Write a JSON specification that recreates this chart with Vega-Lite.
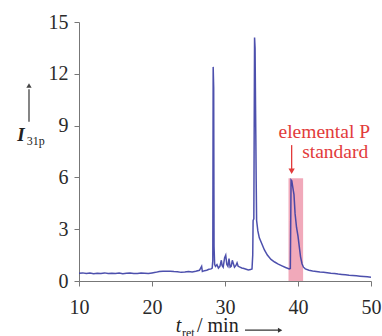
{
  "$schema": "https://vega.github.io/schema/vega-lite/v6.json",
  "width": 292,
  "height": 259,
  "autosize": "none",
  "padding": {"left": 79, "top": 22, "right": 11, "bottom": 55},
  "background": "white",
  "config": {
    "font": "Liberation Serif",
    "view": {"stroke": null},
    "axis": {
      "labelFont": "Liberation Serif",
      "labelFontSize": 20,
      "labelColor": "#2a2a2a",
      "domainColor": "#777777",
      "tickColor": "#777777",
      "tickSize": 5,
      "grid": false,
      "title": null
    }
  },
  "layer": [
    {
      "data": {"values": [{"t0": 38.7, "t1": 40.7, "i0": 0, "i1": 5.95}]},
      "mark": {"type": "rect", "color": "#ef9aae", "opacity": 0.85},
      "encoding": {
        "x": {"field": "t0", "type": "quantitative", "scale": {"domain": [10, 50], "nice": false},
              "axis": {"values": [10, 20, 30, 40, 50], "labelPadding": 11, "labelFlush": false}},
        "x2": {"field": "t1"},
        "y": {"field": "i0", "type": "quantitative", "scale": {"domain": [0, 15], "nice": false},
              "axis": {"values": [0, 3, 6, 9, 12, 15], "labelPadding": 6}},
        "y2": {"field": "i1"}
      }
    },
    {
      "data": {"values": [
        {"t": 10.0, "I": 0.45}, {"t": 10.5, "I": 0.47}, {"t": 11.0, "I": 0.43}, {"t": 11.5, "I": 0.46},
        {"t": 12.0, "I": 0.42}, {"t": 12.5, "I": 0.45}, {"t": 13.0, "I": 0.44}, {"t": 13.5, "I": 0.47},
        {"t": 14.0, "I": 0.43}, {"t": 14.5, "I": 0.45}, {"t": 15.0, "I": 0.44}, {"t": 15.5, "I": 0.46},
        {"t": 16.0, "I": 0.42}, {"t": 16.5, "I": 0.45}, {"t": 17.0, "I": 0.47}, {"t": 17.5, "I": 0.44},
        {"t": 18.0, "I": 0.43}, {"t": 18.5, "I": 0.46}, {"t": 19.0, "I": 0.45}, {"t": 19.5, "I": 0.44},
        {"t": 20.0, "I": 0.47}, {"t": 20.5, "I": 0.5}, {"t": 21.0, "I": 0.55}, {"t": 21.5, "I": 0.57},
        {"t": 22.0, "I": 0.56}, {"t": 22.5, "I": 0.57}, {"t": 23.0, "I": 0.55}, {"t": 23.5, "I": 0.54},
        {"t": 24.0, "I": 0.5}, {"t": 24.5, "I": 0.52}, {"t": 25.0, "I": 0.55}, {"t": 25.5, "I": 0.52},
        {"t": 26.0, "I": 0.56}, {"t": 26.5, "I": 0.62}, {"t": 26.8, "I": 0.85}, {"t": 26.9, "I": 0.55},
        {"t": 27.2, "I": 0.6}, {"t": 27.5, "I": 0.62}, {"t": 27.8, "I": 0.68}, {"t": 28.1, "I": 0.7},
        {"t": 28.25, "I": 0.75}, {"t": 28.33, "I": 1.2}, {"t": 28.38, "I": 12.4}, {"t": 28.45, "I": 11.2},
        {"t": 28.5, "I": 2.0}, {"t": 28.58, "I": 0.95}, {"t": 28.7, "I": 0.85}, {"t": 28.9, "I": 0.95},
        {"t": 29.1, "I": 0.75}, {"t": 29.3, "I": 0.85}, {"t": 29.5, "I": 1.2}, {"t": 29.6, "I": 0.9},
        {"t": 29.75, "I": 0.8}, {"t": 29.95, "I": 1.35}, {"t": 30.1, "I": 1.5}, {"t": 30.25, "I": 0.95},
        {"t": 30.4, "I": 0.85}, {"t": 30.55, "I": 1.3}, {"t": 30.7, "I": 0.8}, {"t": 30.85, "I": 0.85},
        {"t": 31.0, "I": 1.2}, {"t": 31.15, "I": 1.0}, {"t": 31.3, "I": 0.8}, {"t": 31.5, "I": 0.9},
        {"t": 31.65, "I": 1.05}, {"t": 31.8, "I": 0.85}, {"t": 32.05, "I": 0.8}, {"t": 32.3, "I": 0.75},
        {"t": 32.6, "I": 0.72}, {"t": 32.9, "I": 0.68}, {"t": 33.2, "I": 0.64}, {"t": 33.5, "I": 0.66},
        {"t": 33.7, "I": 0.7}, {"t": 33.8, "I": 1.5}, {"t": 33.85, "I": 3.5}, {"t": 33.95, "I": 3.6},
        {"t": 34.05, "I": 14.1}, {"t": 34.12, "I": 13.5}, {"t": 34.18, "I": 10.3}, {"t": 34.22, "I": 8.5},
        {"t": 34.27, "I": 5.9}, {"t": 34.33, "I": 3.5}, {"t": 34.5, "I": 2.9}, {"t": 34.7, "I": 2.5},
        {"t": 35.0, "I": 2.2}, {"t": 35.4, "I": 1.8}, {"t": 35.8, "I": 1.5}, {"t": 36.3, "I": 1.25},
        {"t": 36.8, "I": 1.1}, {"t": 37.3, "I": 0.98}, {"t": 37.8, "I": 0.88}, {"t": 38.3, "I": 0.78},
        {"t": 38.8, "I": 0.7}, {"t": 38.95, "I": 0.72}, {"t": 39.05, "I": 5.85}, {"t": 39.15, "I": 5.8},
        {"t": 39.3, "I": 5.4}, {"t": 39.45, "I": 5.0}, {"t": 39.6, "I": 3.9}, {"t": 39.8, "I": 3.1},
        {"t": 40.0, "I": 2.6}, {"t": 40.2, "I": 1.9}, {"t": 40.35, "I": 1.4}, {"t": 40.55, "I": 1.0},
        {"t": 40.75, "I": 0.8}, {"t": 41.0, "I": 0.7}, {"t": 41.5, "I": 0.62}, {"t": 42.0, "I": 0.58},
        {"t": 42.5, "I": 0.55}, {"t": 43.0, "I": 0.52}, {"t": 43.5, "I": 0.5}, {"t": 44.0, "I": 0.48},
        {"t": 44.5, "I": 0.45}, {"t": 45.0, "I": 0.44}, {"t": 45.5, "I": 0.4}, {"t": 46.0, "I": 0.38},
        {"t": 46.5, "I": 0.36}, {"t": 47.0, "I": 0.33}, {"t": 47.5, "I": 0.32}, {"t": 48.0, "I": 0.3},
        {"t": 48.5, "I": 0.28}, {"t": 49.0, "I": 0.26}, {"t": 49.5, "I": 0.24}, {"t": 50.0, "I": 0.22}
      ]},
      "mark": {"type": "line", "color": "#3a3da4", "strokeWidth": 1.5, "opacity": 0.9},
      "encoding": {
        "x": {"field": "t", "type": "quantitative"},
        "y": {"field": "I", "type": "quantitative"}
      }
    },
    {
      "data": {"values": [{"label": "elemental P", "t": 43.6, "I": 8.26}]},
      "mark": {"type": "text", "font": "Liberation Serif", "fontSize": 19.5, "color": "#e23b3b", "align": "center", "baseline": "alphabetic"},
      "encoding": {
        "x": {"field": "t", "type": "quantitative"},
        "y": {"field": "I", "type": "quantitative"},
        "text": {"field": "label"}
      }
    },
    {
      "data": {"values": [{"label": "standard", "t": 45.1, "I": 7.1}]},
      "mark": {"type": "text", "font": "Liberation Serif", "fontSize": 19.5, "color": "#e23b3b", "align": "center", "baseline": "alphabetic"},
      "encoding": {
        "x": {"field": "t", "type": "quantitative"},
        "y": {"field": "I", "type": "quantitative"},
        "text": {"field": "label"}
      }
    },
    {
      "data": {"values": [{"t": 39.13, "I": 7.87, "I2": 6.4}]},
      "mark": {"type": "rule", "color": "#e23b3b", "strokeWidth": 1.3},
      "encoding": {
        "x": {"field": "t", "type": "quantitative"},
        "y": {"field": "I", "type": "quantitative"},
        "y2": {"field": "I2"}
      }
    },
    {
      "data": {"values": [{"t": 39.13, "I": 6.36}]},
      "mark": {"type": "point", "shape": "triangle-down", "filled": true, "color": "#e23b3b", "size": 40, "opacity": 1},
      "encoding": {
        "x": {"field": "t", "type": "quantitative"},
        "y": {"field": "I", "type": "quantitative"}
      }
    },
    {
      "data": {"values": [{"label": "I", "t": 2.05, "I": 8.1}]},
      "mark": {"type": "text", "font": "Liberation Serif", "fontSize": 19, "fontStyle": "italic", "fontWeight": "bold", "color": "#222222", "align": "center", "baseline": "alphabetic"},
      "encoding": {
        "x": {"field": "t", "type": "quantitative"},
        "y": {"field": "I", "type": "quantitative"},
        "text": {"field": "label"}
      }
    },
    {
      "data": {"values": [{"label": "31p", "t": 2.85, "I": 7.9}]},
      "mark": {"type": "text", "font": "Liberation Serif", "fontSize": 12, "color": "#222222", "align": "left", "baseline": "alphabetic"},
      "encoding": {
        "x": {"field": "t", "type": "quantitative"},
        "y": {"field": "I", "type": "quantitative"},
        "text": {"field": "label"}
      }
    },
    {
      "data": {"values": [{"t": 3.15, "I": 9.22, "I2": 11.1}]},
      "mark": {"type": "rule", "color": "#444444", "strokeWidth": 1.3},
      "encoding": {
        "x": {"field": "t", "type": "quantitative"},
        "y": {"field": "I", "type": "quantitative"},
        "y2": {"field": "I2"}
      }
    },
    {
      "data": {"values": [{"t": 3.15, "I": 11.32}]},
      "mark": {"type": "point", "shape": "triangle-up", "filled": true, "color": "#444444", "size": 28, "opacity": 1},
      "encoding": {
        "x": {"field": "t", "type": "quantitative"},
        "y": {"field": "I", "type": "quantitative"}
      }
    },
    {
      "data": {"values": [{"label": "t", "t": 23.63, "I": -2.95}]},
      "mark": {"type": "text", "font": "Liberation Serif", "fontSize": 20, "fontStyle": "italic", "color": "#222222", "align": "center", "baseline": "alphabetic"},
      "encoding": {
        "x": {"field": "t", "type": "quantitative"},
        "y": {"field": "I", "type": "quantitative"},
        "text": {"field": "label"}
      }
    },
    {
      "data": {"values": [{"label": "ret", "t": 24.1, "I": -3.22}]},
      "mark": {"type": "text", "font": "Liberation Serif", "fontSize": 12, "color": "#222222", "align": "left", "baseline": "alphabetic"},
      "encoding": {
        "x": {"field": "t", "type": "quantitative"},
        "y": {"field": "I", "type": "quantitative"},
        "text": {"field": "label"}
      }
    },
    {
      "data": {"values": [{"label": "/ min", "t": 26.16, "I": -2.95}]},
      "mark": {"type": "text", "font": "Liberation Serif", "fontSize": 20, "color": "#222222", "align": "left", "baseline": "alphabetic"},
      "encoding": {
        "x": {"field": "t", "type": "quantitative"},
        "y": {"field": "I", "type": "quantitative"},
        "text": {"field": "label"}
      }
    },
    {
      "data": {"values": [{"t": 32.74, "t2": 37.3, "I": -2.85}]},
      "mark": {"type": "rule", "color": "#333333", "strokeWidth": 1.2},
      "encoding": {
        "x": {"field": "t", "type": "quantitative"},
        "x2": {"field": "t2"},
        "y": {"field": "I", "type": "quantitative"}
      }
    },
    {
      "data": {"values": [{"t": 37.55, "I": -2.85}]},
      "mark": {"type": "point", "shape": "triangle-right", "filled": true, "color": "#333333", "size": 25, "opacity": 1},
      "encoding": {
        "x": {"field": "t", "type": "quantitative"},
        "y": {"field": "I", "type": "quantitative"}
      }
    }
  ]
}
